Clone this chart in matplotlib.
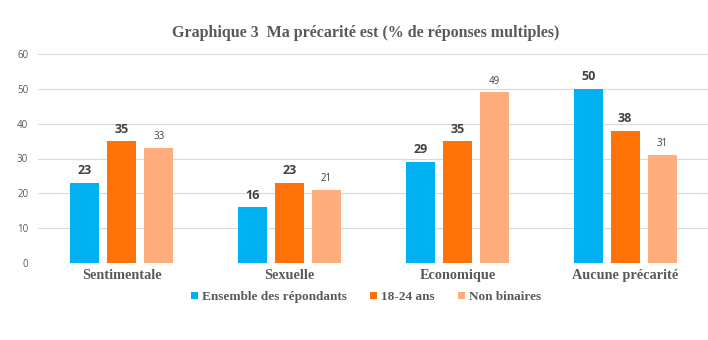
import matplotlib
matplotlib.use("Agg")
import matplotlib.pyplot as plt
import numpy as np
from matplotlib.patches import Patch

categories = ["Sentimentale", "Sexuelle", "Economique", "Aucune précarité"]
series_names = ["Ensemble des répondants", "18-24 ans", "Non binaires"]
ensemble = [23, 16, 29, 50]
jeunes = [35, 23, 35, 38]
non_binaires = [33, 21, 49, 31]
colors = ["#00B0F0", "#FF7208", "#FFAD7C"]

fig = plt.figure(figsize=(7.08, 3.40), dpi=100)
ax = fig.add_axes([38 / 708, 1 - 263 / 340, (709 - 38) / 708, (263 - 54) / 340])

x = np.arange(len(categories))
step = 0.22
width = 0.173
values = [ensemble, jeunes, non_binaires]
for i, (vals, col) in enumerate(zip(values, colors)):
    bars = ax.bar(x + (i - 1) * step, vals, width, color=col, zorder=2)
    for b in bars:
        h = b.get_height()
        if i < 2:
            ax.annotate(f"{int(h)}", xy=(b.get_x() + b.get_width() / 2, h), xytext=(0, 4),
                        textcoords="offset points", ha="center", va="bottom",
                        fontsize=9, fontweight="bold", color="#404040", family="Open Sans")
        else:
            ax.annotate(f"{int(h)}", xy=(b.get_x() + b.get_width() / 2, h), xytext=(0, 4),
                        textcoords="offset points", ha="center", va="bottom",
                        fontsize=7, color="#404040", family="Open Sans")

ax.set_xlim(-0.5, 3.5)
ax.set_ylim(0, 60)
ax.set_yticks(range(0, 61, 10))
ax.yaxis.grid(True, color="#D9D9D9", linewidth=0.8, zorder=0)
ax.set_axisbelow(True)
for s in ax.spines.values():
    s.set_visible(False)
ax.tick_params(axis="y", length=0, labelsize=7, labelcolor="#595959", pad=7)
ax.tick_params(axis="x", length=0, pad=4)
ax.set_xticks(x)
ax.set_xticklabels(categories, fontsize=10.3, fontweight="bold", color="#595959",
                   family="Liberation Serif")
for lbl in ax.get_yticklabels():
    lbl.set_family("Open Sans")

fig.text(0.516, 1 - 33 / 340, "Graphique 3  Ma précarité est (% de réponses multiples)",
         ha="center", va="center", fontsize=11.5, fontweight="bold", color="#595959",
         family="Liberation Serif")

handles = [Patch(facecolor=c, edgecolor="none") for c in colors]
leg = fig.legend(handles, series_names, loc="center", bbox_to_anchor=(0.517, 1 - 297 / 340),
                 ncol=3, frameon=False, handlelength=0.5, handleheight=0.5, handletextpad=0.3,
                 columnspacing=1.8, prop={"family": "Liberation Serif", "weight": "bold", "size": 9.5})
for t in leg.get_texts():
    t.set_color("#595959")

fig.savefig("out.png", dpi=100)
